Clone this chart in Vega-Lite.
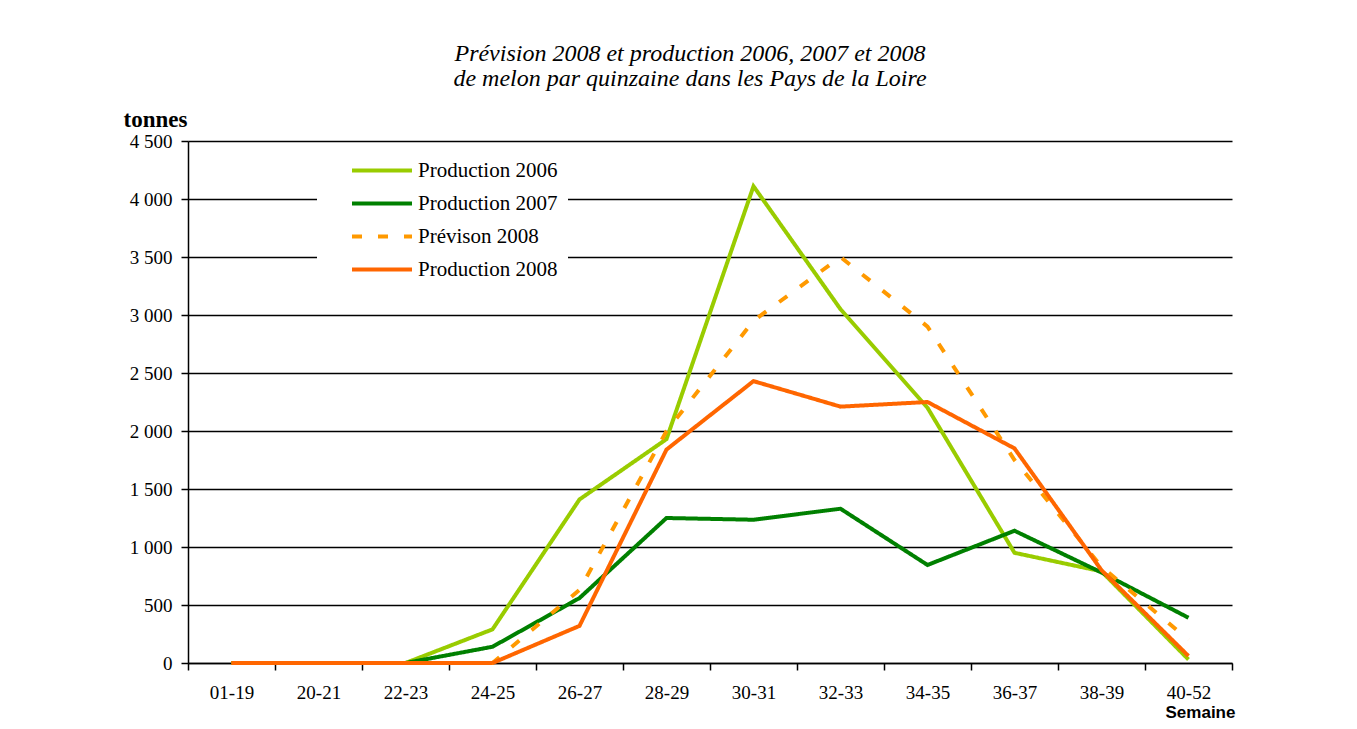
{
  "$schema": "https://vega.github.io/schema/vega-lite/v6.json",
  "width": 1044,
  "height": 522,
  "autosize": {"type": "none"},
  "padding": {"left": 188, "top": 141, "right": 125, "bottom": 66},
  "background": "white",
  "title": {
    "text": ["Prévision 2008 et production 2006, 2007 et 2008", "de melon par quinzaine dans les Pays de la Loire"],
    "font": "Liberation Serif", "fontStyle": "italic", "fontWeight": "normal", "fontSize": 24,
    "lineHeight": 25, "offset": 17, "dx": -20, "color": "black", "anchor": "middle"
  },
  "data": {"values": [
    {"semaine": "01-19", "serie": "Production 2006", "tonnes": 0},
    {"semaine": "20-21", "serie": "Production 2006", "tonnes": 0},
    {"semaine": "22-23", "serie": "Production 2006", "tonnes": 0},
    {"semaine": "24-25", "serie": "Production 2006", "tonnes": 290},
    {"semaine": "26-27", "serie": "Production 2006", "tonnes": 1410},
    {"semaine": "28-29", "serie": "Production 2006", "tonnes": 1930},
    {"semaine": "30-31", "serie": "Production 2006", "tonnes": 4110},
    {"semaine": "32-33", "serie": "Production 2006", "tonnes": 3050},
    {"semaine": "34-35", "serie": "Production 2006", "tonnes": 2200},
    {"semaine": "36-37", "serie": "Production 2006", "tonnes": 950},
    {"semaine": "38-39", "serie": "Production 2006", "tonnes": 790},
    {"semaine": "40-52", "serie": "Production 2006", "tonnes": 30},
    {"semaine": "01-19", "serie": "Production 2007", "tonnes": 0},
    {"semaine": "20-21", "serie": "Production 2007", "tonnes": 0},
    {"semaine": "22-23", "serie": "Production 2007", "tonnes": 0},
    {"semaine": "24-25", "serie": "Production 2007", "tonnes": 140},
    {"semaine": "26-27", "serie": "Production 2007", "tonnes": 560},
    {"semaine": "28-29", "serie": "Production 2007", "tonnes": 1250},
    {"semaine": "30-31", "serie": "Production 2007", "tonnes": 1235},
    {"semaine": "32-33", "serie": "Production 2007", "tonnes": 1330},
    {"semaine": "34-35", "serie": "Production 2007", "tonnes": 845},
    {"semaine": "36-37", "serie": "Production 2007", "tonnes": 1140},
    {"semaine": "38-39", "serie": "Production 2007", "tonnes": 780},
    {"semaine": "40-52", "serie": "Production 2007", "tonnes": 390},
    {"semaine": "01-19", "serie": "Prévison 2008", "tonnes": 0},
    {"semaine": "20-21", "serie": "Prévison 2008", "tonnes": 0},
    {"semaine": "22-23", "serie": "Prévison 2008", "tonnes": 0},
    {"semaine": "24-25", "serie": "Prévison 2008", "tonnes": 0},
    {"semaine": "26-27", "serie": "Prévison 2008", "tonnes": 630},
    {"semaine": "28-29", "serie": "Prévison 2008", "tonnes": 2000},
    {"semaine": "30-31", "serie": "Prévison 2008", "tonnes": 2950},
    {"semaine": "32-33", "serie": "Prévison 2008", "tonnes": 3500},
    {"semaine": "34-35", "serie": "Prévison 2008", "tonnes": 2900},
    {"semaine": "36-37", "serie": "Prévison 2008", "tonnes": 1750},
    {"semaine": "38-39", "serie": "Prévison 2008", "tonnes": 830},
    {"semaine": "40-52", "serie": "Prévison 2008", "tonnes": 200},
    {"semaine": "01-19", "serie": "Production 2008", "tonnes": 0},
    {"semaine": "20-21", "serie": "Production 2008", "tonnes": 0},
    {"semaine": "22-23", "serie": "Production 2008", "tonnes": 0},
    {"semaine": "24-25", "serie": "Production 2008", "tonnes": 0},
    {"semaine": "26-27", "serie": "Production 2008", "tonnes": 320},
    {"semaine": "28-29", "serie": "Production 2008", "tonnes": 1840},
    {"semaine": "30-31", "serie": "Production 2008", "tonnes": 2430},
    {"semaine": "32-33", "serie": "Production 2008", "tonnes": 2210},
    {"semaine": "34-35", "serie": "Production 2008", "tonnes": 2250},
    {"semaine": "36-37", "serie": "Production 2008", "tonnes": 1850},
    {"semaine": "38-39", "serie": "Production 2008", "tonnes": 800},
    {"semaine": "40-52", "serie": "Production 2008", "tonnes": 60}
  ]},
  "mark": {"type": "line", "strokeWidth": 4, "strokeCap": "butt"},
  "encoding": {
    "x": {
      "field": "semaine", "type": "nominal", "sort": null, "bandPosition": 0.5,
      "scale": {"type": "band", "paddingInner": 0, "paddingOuter": 0},
      "axis": {
        "title": "Semaine", "titleFont": "Liberation Sans", "titleFontWeight": "bold", "titleFontSize": 17,
        "titleColor": "black", "titleX": 1012, "titleY": 49, "titleAlign": "center", "titleBaseline": "middle",
        "labelAngle": 0, "tickBand": "extent", "labelPadding": 13, "labelFontSize": 19,
        "labelFont": "Liberation Serif", "labelColor": "black", "tickSize": 7, "tickWidth": 1.5,
        "tickColor": "black", "domainColor": "black", "domainWidth": 1.5, "grid": false
      }
    },
    "y": {
      "field": "tonnes", "type": "quantitative",
      "scale": {"domain": [0, 4500], "nice": false},
      "axis": {
        "values": [0, 500, 1000, 1500, 2000, 2500, 3000, 3500, 4000, 4500],
        "labelExpr": "replace(format(datum.value, ','), ',', ' ')",
        "title": "tonnes", "titleAngle": 0, "titleAlign": "right", "titleBaseline": "middle",
        "titleX": -1, "titleY": -22, "titleFont": "Liberation Serif", "titleFontSize": 23,
        "titleFontWeight": "bold", "titleColor": "black",
        "grid": true, "gridColor": "black", "gridWidth": 1.3,
        "domainColor": "black", "domainWidth": 1.5, "tickColor": "black", "tickSize": 7, "tickWidth": 1.5,
        "labelPadding": 9, "labelFontSize": 19, "labelFont": "Liberation Serif", "labelColor": "black"
      }
    },
    "color": {
      "field": "serie", "type": "nominal",
      "scale": {
        "domain": ["Production 2006", "Production 2007", "Prévison 2008", "Production 2008"],
        "range": ["#99CC00", "#008000", "#FF9900", "#FF6600"]
      },
      "legend": {"title": null}
    },
    "strokeDash": {
      "field": "serie", "type": "nominal",
      "scale": {
        "domain": ["Production 2006", "Production 2007", "Prévison 2008", "Production 2008"],
        "range": [[1, 0], [1, 0], [10, 16], [1, 0]]
      },
      "legend": {"title": null}
    }
  },
  "config": {
    "view": {"stroke": null},
    "legend": {
      "orient": "none", "legendX": 129, "legendY": 3, "padding": 10, "fillColor": "white",
      "symbolType": "stroke", "symbolSize": 3600, "symbolStrokeWidth": 4, "symbolOffset": 23,
      "clipHeight": 33, "rowPadding": 0, "labelOffset": 4,
      "labelFont": "Liberation Serif", "labelFontSize": 21, "labelColor": "black", "labelLimit": 300
    }
  }
}
